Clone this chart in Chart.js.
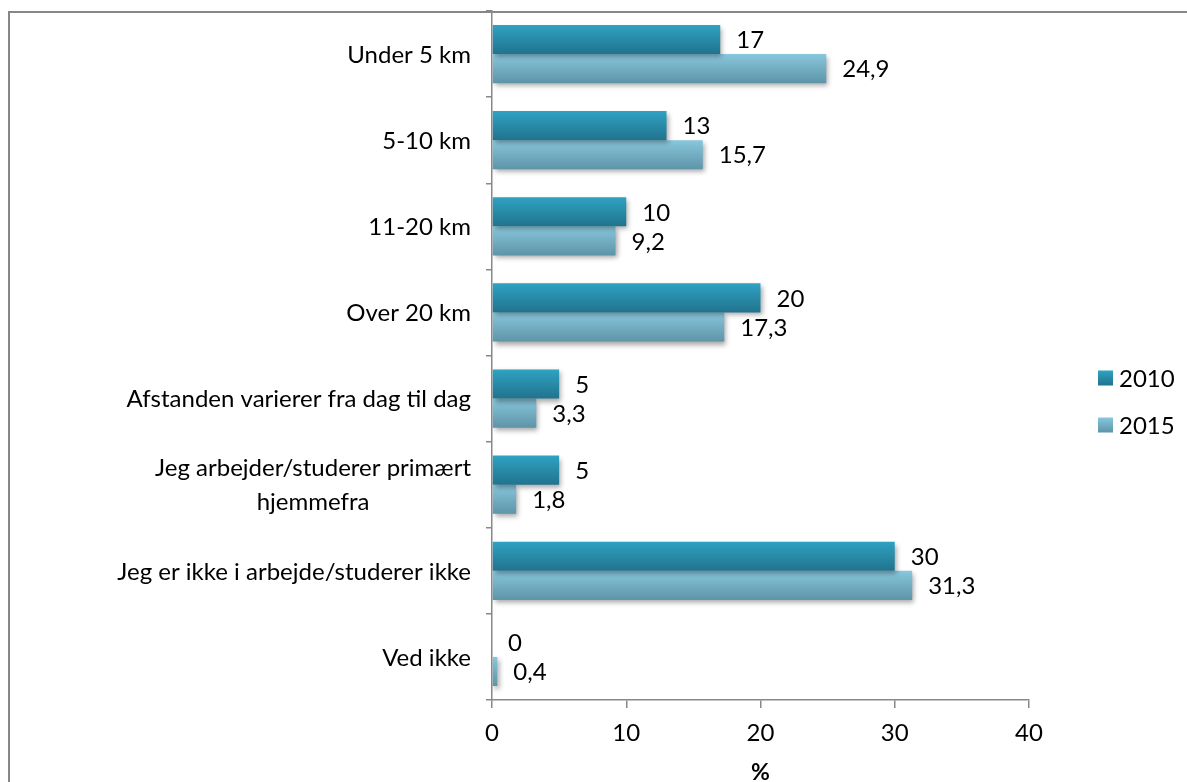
<!DOCTYPE html>
<html><head><meta charset="utf-8">
<script src="https://cdn.jsdelivr.net/npm/chart.js@4.4.0/dist/chart.umd.min.js"></script>
<style>
html,body{margin:0;padding:0;background:#fff;overflow:hidden;width:1187px;height:782px;}
#frame{position:absolute;left:8px;top:11px;width:1400px;height:1000px;border-left:2px solid #878787;border-top:2px solid #878787;}
#wrap{position:absolute;left:0;top:0;width:1187px;height:782px;}
</style></head><body>
<div id="frame"></div>
<div id="wrap"><canvas id="c" width="1187" height="782"></canvas></div>
<script>
const categories = [
  ["Under 5 km"],
  ["5-10 km"],
  ["11-20 km"],
  ["Over 20 km"],
  ["Afstanden varierer fra dag til dag"],
  ["Jeg arbejder/studerer primært", "hjemmefra"],
  ["Jeg er ikke i arbejde/studerer ikke"],
  ["Ved ikke"]
];
const seriesNames = ["2010", "2015"];
const values2010 = [17, 13, 10, 20, 5, 5, 30, 0];
const values2015 = [24.9, 15.7, 9.2, 17.3, 3.3, 1.8, 31.3, 0.4];
const xTickValues = [0, 10, 20, 30, 40];
const axisTitle = "%";

const FONT = "Lato";
const FS = 24;
const CAT_PCT = 0.675;
const palette = [["#2FA2C2", "#21738D"], ["#88C7DD", "#5E94A8"]];

function gradFill(di) {
  return (ctx) => {
    const chart = ctx.chart;
    const [top, bottom] = palette[di];
    if (ctx.type !== 'data' || !chart.chartArea || !chart.scales.y) return top;
    const ys = chart.scales.y;
    const c = ys.getPixelForValue(ctx.dataIndex);
    const band = ys.height / chart.data.labels.length;
    const bh = band * CAT_PCT / 2;
    const y0 = c - bh + ctx.datasetIndex * bh;
    const g = chart.ctx.createLinearGradient(0, y0, 0, y0 + bh);
    g.addColorStop(0, top);
    g.addColorStop(1, bottom);
    return g;
  };
}

const fmt = v => String(v).replace('.', ',');

const decor = {
  id: 'decor',
  beforeDatasetsDraw(chart) {
    const c = chart.ctx;
    c.save();
    c.shadowColor = 'rgba(0,0,0,0.35)';
    c.shadowBlur = 5;
    c.shadowOffsetX = 2;
    c.shadowOffsetY = 3;
  },
  afterDatasetsDraw(chart) {
    const c = chart.ctx;
    c.restore();
    c.save();
    c.font = FS + "px " + FONT;
    c.fillStyle = "#000";
    c.textAlign = "left";
    c.textBaseline = "middle";
    chart.data.datasets.forEach((ds, di) => {
      const meta = chart.getDatasetMeta(di);
      meta.data.forEach((el, i) => {
        c.fillText(fmt(ds.data[i]), el.x + 16, el.y + 1);
      });
    });
    c.restore();
  },
  afterDraw(chart) {
    const c = chart.ctx;
    const ys = chart.scales.y;
    const area = chart.chartArea;
    c.save();
    c.font = FS + "px " + FONT;
    c.fillStyle = "#000";
    c.textAlign = "center";
    c.textBaseline = "middle";
    const rightEdge = area.left - 21;
    const lh = 34;
    chart.data.labels.forEach((lines, i) => {
      const cy = ys.getPixelForValue(i);
      const maxW = Math.max(...lines.map(l => c.measureText(l).width));
      const cx = rightEdge - maxW / 2;
      lines.forEach((l, j) => {
        c.fillText(l, cx, cy + 1 + (j - (lines.length - 1) / 2) * lh);
      });
    });
    // legend
    c.textAlign = "left";
    chart.data.datasets.forEach((ds, di) => {
      const yc = 378 + di * 47;
      const x0 = area.right + 69;
      const g = c.createLinearGradient(0, yc - 7.5, 0, yc + 7.5);
      g.addColorStop(0, palette[di][0]);
      g.addColorStop(1, palette[di][1]);
      c.fillStyle = g;
      c.fillRect(x0, yc - 7.5, 15, 15);
      c.fillStyle = "#000";
      c.fillText(ds.label, x0 + 21, yc + 1);
    });
    c.restore();
  }
};

new Chart(document.getElementById('c'), {
  type: 'bar',
  data: {
    labels: categories,
    datasets: [
      { label: seriesNames[0], data: values2010, backgroundColor: gradFill(0), categoryPercentage: CAT_PCT, barPercentage: 1 },
      { label: seriesNames[1], data: values2015, backgroundColor: gradFill(1), categoryPercentage: CAT_PCT, barPercentage: 1 }
    ]
  },
  options: {
    indexAxis: 'y',
    responsive: false,
    animation: false,
    layout: { padding: { left: 0, right: 158, top: 11, bottom: 0 } },
    plugins: { legend: { display: false }, tooltip: { enabled: false } },
    scales: {
      x: {
        min: 0, max: 40,
        afterBuildTicks(s) { s.ticks = xTickValues.map(v => ({ value: v })); },
        ticks: { color: '#000', font: { family: FONT, size: FS }, padding: 11, maxRotation: 0 },
        grid: { drawOnChartArea: false, tickLength: 8, color: '#888', lineWidth: 1.5 },
        border: { color: '#888', width: 1.5 },
        title: { display: true, text: axisTitle, color: '#000', font: { family: FONT, size: FS - 1, weight: 'bold', lineHeight: 0.8 }, padding: { top: 0, bottom: 0 } },
        afterFit(s) { s.height = 82; }
      },
      y: {
        ticks: { display: false },
        grid: { drawOnChartArea: false, tickLength: 6, offset: true, color: '#888', lineWidth: 1.5 },
        border: { color: '#888', width: 1.5 },
        afterFit(s) { s.width = 492; }
      }
    }
  },
  plugins: [decor]
});
</script>
</body></html>
